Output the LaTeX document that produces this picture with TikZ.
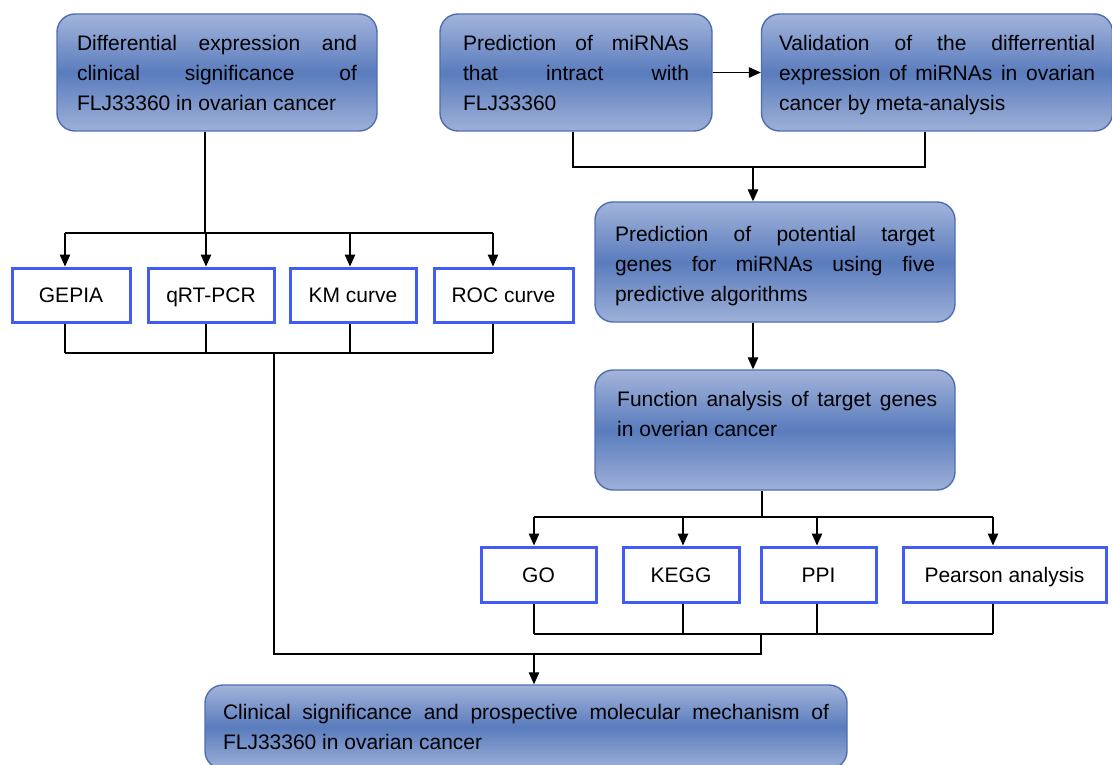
\documentclass[tikz,border=0pt]{standalone}
\usepackage{fontspec}
\setmainfont{Liberation Sans}
\usetikzlibrary{arrows.meta,calc}
\definecolor{shtop}{RGB}{163,180,219}
\definecolor{shmid}{RGB}{90,124,189}
\definecolor{shbot}{RGB}{158,176,216}
\definecolor{rborder}{RGB}{78,110,178}
\definecolor{bblue}{RGB}{64,92,245}
\begin{document}
\begin{tikzpicture}[x=1pt,y=-1pt,
 rbox/.style={draw=rborder, line width=1.4pt, rounded corners=18pt, top color=shtop, bottom color=shbot, middle color=shmid, inner sep=0pt, align=justify, font=\fontsize{21}{30}\selectfont},
 btext/.style={inner sep=0pt, align=justify, font=\fontsize{21}{30}\selectfont},
 sbox/.style={draw=bblue, line width=3pt, fill=white, inner sep=0pt, text height=17pt, text depth=2pt, font=\fontsize{21}{25}\selectfont},
 conn/.style={line width=1.2pt, black},
 arr/.style={conn, -{Triangle[length=12pt,width=10.5pt]}}]
\useasboundingbox (0,0) rectangle (1112,765);

% rounded shaded boxes
\node[rbox, minimum width=320pt, minimum height=117pt, text width=280pt] (b1) at (217,72.5)
  {Differential expression and\linebreak clinical significance of\linebreak FLJ33360 in ovarian cancer};
\node[rbox, minimum width=272pt, minimum height=117pt, text width=226pt] (b2) at (576,72.5)
  {Prediction of miRNAs\linebreak that intract with\linebreak FLJ33360};
\node[rbox, minimum width=351pt, minimum height=117pt, text width=316pt] (b3) at (937,72.5)
  {\strut Validation of the differrential\linebreak expression of miRNAs in ovarian\linebreak cancer by meta-analysis};
\node[rbox, minimum width=360pt, minimum height=120pt, text width=320pt] (b4) at (775,262)
  {\rule{0pt}{24pt}Prediction of potential target\linebreak genes for miRNAs using five\linebreak predictive algorithms};
\node[rbox, minimum width=360pt, minimum height=120pt] (b5) at (775,430) {};
\node[btext, text width=320pt, anchor=north west] (b5t) at (617,391)
  {Function analysis of target genes\linebreak in overian cancer};
\node[rbox, minimum width=642pt, minimum height=84pt, text width=606pt] (fin) at (526,727)
  {Clinical significance and prospective molecular mechanism of\linebreak FLJ33360 in ovarian cancer};

% left row boxes
\node[sbox, minimum width=118pt, minimum height=54pt] (g1) at (71,295) {GEPIA};
\node[sbox, minimum width=126pt, minimum height=54pt] (g2) at (211,295) {qRT-PCR};
\node[sbox, minimum width=126pt, minimum height=54pt] (g3) at (353,295) {KM curve};
\node[sbox, minimum width=139pt, minimum height=54pt] (g4) at (503.5,295) {ROC curve};

% right row boxes
\node[sbox, minimum width=115pt, minimum height=55pt] (h1) at (538.5,574.5) {GO};
\node[sbox, minimum width=116pt, minimum height=55pt] (h2) at (681,574.5) {KEGG};
\node[sbox, minimum width=115pt, minimum height=55pt] (h3) at (818.5,574.5) {PPI};
\node[sbox, minimum width=203pt, minimum height=55pt] (h4) at (1004.5,574.5) {Pearson analysis};

% left branch
\coordinate (t0) at (205,233);
\coordinate (a1) at (65,233);
\coordinate (a2) at (206,233);
\coordinate (a3) at (350,233);
\coordinate (a4) at (493,233);
\draw[conn] (b1.south -| t0) -- (t0);
\draw[conn] (a1) -- (a4);
\draw[arr] (a1) -- (a1 |- g1.north);
\draw[arr] (a2) -- (a2 |- g2.north);
\draw[arr] (a3) -- (a3 |- g3.north);
\draw[arr] (a4) -- (a4 |- g4.north);

\coordinate (c1) at (65,353);
\coordinate (c2) at (206,353);
\coordinate (c3) at (350,353);
\coordinate (c4) at (493,353);
\draw[conn] (c1 |- g1.south) -- (c1);
\draw[conn] (c2 |- g2.south) -- (c2);
\draw[conn] (c3 |- g3.south) -- (c3);
\draw[conn] (c4 |- g4.south) -- (c4);
\draw[conn] (c1) -- (c4);

% right top
\coordinate (p1) at (573,167);
\coordinate (p2) at (925,167);
\coordinate (pm) at (753,167);
\draw[arr] (b2.east) -- (b3.west);
\draw[conn] (p1 |- b2.south) -- (p1) -- (p2) -- (p2 |- b3.south);
\draw[arr] (pm) -- (pm |- b4.north);
\draw[arr] (b4.south -| pm) -- (b5.north -| pm);

% right branch
\coordinate (e0) at (762,517);
\coordinate (e1) at (534,517);
\coordinate (e2) at (683,517);
\coordinate (e3) at (817,517);
\coordinate (e4) at (993,517);
\draw[conn] (b5.south -| e0) -- (e0);
\draw[conn] (e1) -- (e4);
\draw[arr] (e1) -- (e1 |- h1.north);
\draw[arr] (e2) -- (e2 |- h2.north);
\draw[arr] (e3) -- (e3 |- h3.north);
\draw[arr] (e4) -- (e4 |- h4.north);

\coordinate (d1) at (534,634);
\coordinate (d2) at (683,634);
\coordinate (d3) at (817,634);
\coordinate (d4) at (993,634);
\draw[conn] (d1 |- h1.south) -- (d1);
\draw[conn] (d2 |- h2.south) -- (d2);
\draw[conn] (d3 |- h3.south) -- (d3);
\draw[conn] (d4 |- h4.south) -- (d4);
\draw[conn] (d1) -- (d4);

% merge to final
\coordinate (m1) at (274,353);
\coordinate (m2) at (274,654);
\coordinate (m3) at (761,654);
\coordinate (dm) at (761,634);
\coordinate (fa) at (534,654);
\draw[conn] (m1) -- (m2) -- (m3) -- (dm);
\draw[arr] (fa) -- (fa |- fin.north);
\end{tikzpicture}
\end{document}
